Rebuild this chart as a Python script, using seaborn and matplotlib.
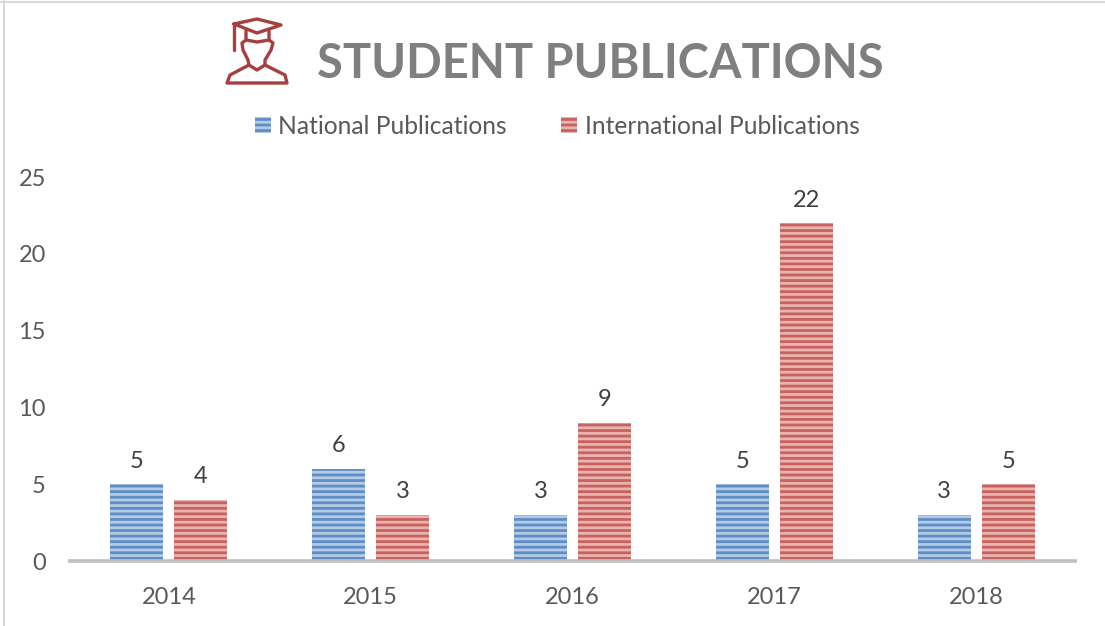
import matplotlib
matplotlib.use('Agg')
import matplotlib.pyplot as plt
import numpy as np
import pandas as pd
import seaborn as sns
from matplotlib.lines import Line2D

years = ['2014', '2015', '2016', '2017', '2018']
national = [5, 6, 3, 5, 3]
international = [4, 3, 9, 22, 5]
series_names = ['National Publications', 'International Publications']

W, H = 1105, 626
text_col = '#595959'

sns.set_theme(style='white')
plt.rcParams['font.family'] = ['Lato', 'DejaVu Sans']
plt.rcParams['hatch.linewidth'] = 2.0

df = pd.DataFrame({'year': years * 2,
                   'value': national + international,
                   'series': [series_names[0]] * 5 + [series_names[1]] * 5})

fig = plt.figure(figsize=(W / 100, H / 100), dpi=100)
ax = fig.add_axes([68 / W, 1 - 561 / H, (1077 - 68) / W, (561 - 177) / H])

sns.barplot(data=df, x='year', y='value', hue='series', ax=ax, width=0.634, gap=0.172,
            palette=['#b4cbe6', '#e8b4b2'], saturation=1)

# stripes on the bars
edge_cols = ['#5f8dc6', '#c9625f']
for cont, col in zip(ax.containers, edge_cols):
    for b in cont:
        b.set_hatch('---')
        b.set_edgecolor(col)
        b.set_linewidth(0)
    ax.bar_label(cont, padding=9, fontsize=17, color='#404040')

ax.set_xlim(-0.5, 4.5)
ax.set_ylim(0, 25)
ax.set_yticks(range(0, 30, 5))
ax.set_xlabel('')
ax.set_ylabel('')
ax.tick_params(axis='x', length=0, labelsize=17, labelcolor=text_col, pad=19)
ax.tick_params(axis='y', length=0, labelsize=17, labelcolor=text_col, pad=16)
sns.despine(ax=ax, left=True)
ax.spines['bottom'].set_color('#bfbfbf')
ax.spines['bottom'].set_linewidth(2.6)
ax.spines['bottom'].set_capstyle('butt')

handles, labels = ax.get_legend_handles_labels()
for h, col in zip(handles, edge_cols):
    h.set_hatch('---')
    h.set_edgecolor(col)
    h.set_linewidth(0)
ax.get_legend().remove()
fig.legend(handles, labels, loc='center left', bbox_to_anchor=(233 / W, 1 - 126 / H), ncol=2,
           frameon=False, fontsize=17.7, labelcolor=text_col, handlelength=0.65, handleheight=0.65,
           handletextpad=0.3, columnspacing=2.2)

fig.text(317 / W, 1 - 64 / H, 'STUDENT PUBLICATIONS', fontsize=33.8, fontweight='bold', color='#7f7f7f',
         ha='left', va='center')

# overlay in pixel coordinates for the cap icon and chart frame
ov = fig.add_axes([0, 0, 1, 1], facecolor='none')
ov.set_xlim(0, W)
ov.set_ylim(H, 0)
ov.axis('off')
ic = '#a5403e'
icon_paths = [
    [(234, 24), (257, 19), (281, 25), (257, 33), (234, 24)],
    [(234, 24), (234, 50)],
    [(246, 31), (246, 40), (257, 42), (269, 40), (269, 31)],
    [(246, 40), (242, 43), (243, 50), (248, 60), (249, 65), (257, 70), (265, 65), (265, 60), (271, 50), (273, 43), (269, 40)],
    [(249, 65), (230, 75), (227, 83), (287, 83), (285, 75), (265, 65)],
]
for p in icon_paths:
    xs, ys = zip(*p)
    ov.add_line(Line2D(xs, ys, color=ic, lw=2.4, solid_joinstyle='round', solid_capstyle='round'))
ov.add_line(Line2D([0, W], [2, 2], color='#d9d9d9', lw=1.5))
ov.add_line(Line2D([4, 4], [0, H], color='#d9d9d9', lw=1.5))

fig.savefig('out.png', dpi=100)
